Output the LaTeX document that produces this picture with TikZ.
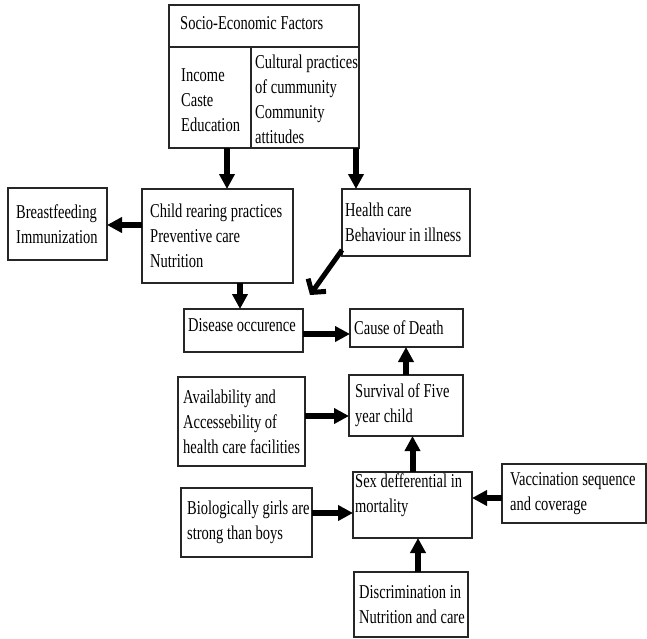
\documentclass[tikz,border=0pt]{standalone}
\usepackage{fontspec}
\setmainfont{Liberation Serif}[FakeStretch=0.74]
\usetikzlibrary{arrows.meta}
\tikzset{
  box/.style={draw=black!85, line width=1.1pt, inner sep=0pt, outer sep=0pt, anchor=north west},
  txt/.style={font=\fontsize{19.6}{25}\selectfont, align=left, inner sep=0pt, anchor=west, text=black},
  arr/.style={line width=6pt, -{Triangle[width=15pt,length=15pt]}},
  diag/.style={line width=5pt, -{Straight Barb[length=9pt,width=22pt]}}
}
\newcommand\mkbox[5]{\node[box, minimum width={(#3)-(#1)}, minimum height={(#4)-(#2)}] (#5) at (#1,#2) {};}
\begin{document}
\begin{tikzpicture}[x=1pt,y=-1pt]
\fill[white] (0,0) rectangle (647,638);
\useasboundingbox (0,0) rectangle (647,638);
% boxes
\mkbox{169}{5}{359}{47}{sochead}
\mkbox{169}{47}{251}{148}{socleft}
\mkbox{251}{47}{359}{148}{socright}
\mkbox{142}{189}{293}{283}{child}
\mkbox{8}{188}{107}{260}{breast}
\mkbox{342}{189}{470}{256}{health}
\mkbox{184}{309}{303}{352}{disease}
\mkbox{350}{309}{463}{347}{cause}
\mkbox{349}{375}{463}{436}{survival}
\mkbox{178}{377}{305}{466}{avail}
\mkbox{353}{472}{472}{538}{sex}
\mkbox{502}{464}{646}{523}{vacc}
\mkbox{181}{488}{312}{557}{bio}
\mkbox{354}{572}{468}{637}{disc}
% texts
\node[txt] (sochead-t) at ([xshift=11pt,yshift=3pt]sochead.west) {Socio-Economic Factors};
\node[txt] (socleft-t) at ([xshift=12pt,yshift=-3pt]socleft.west) {Income\\Caste\\Education};
\node[txt] (socright-t) at ([xshift=4pt,yshift=-1.5pt]socright.west) {Cultural practices\\of cummunity\\Community\\attitudes};
\node[txt] (child-t) at ([xshift=8pt]child.west) {Child rearing practices\\Preventive care\\Nutrition};
\node[txt] (breast-t) at ([xshift=8pt]breast.west) {Breastfeeding\\Immunization};
\node[txt] (health-t) at ([xshift=3pt]health.west) {Health care\\Behaviour in illness};
\node[txt] (disease-t) at ([xshift=4pt,yshift=5pt]disease.west) {Disease occurence};
\node[txt] (cause-t) at ([xshift=4pt]cause.west) {Cause of Death};
\node[txt] (survival-t) at ([xshift=6pt]survival.west) {Survival of Five\\year child};
\node[txt] (avail-t) at ([xshift=5pt]avail.west) {Availability and\\Accessebility of\\health care facilities};
\node[txt] (sex-t) at ([xshift=2pt,yshift=9.5pt]sex.west) {Sex defferential in\\mortality};
\node[txt] (vacc-t) at ([xshift=8pt]vacc.west) {Vaccination sequence\\and coverage};
\node[txt] (bio-t) at ([xshift=6pt]bio.west) {Biologically girls are\\strong than boys};
\node[txt] (disc-t) at ([xshift=5pt]disc.west) {Discrimination in\\Nutrition and care};
% arrows
\draw[arr] ([xshift=17pt]socleft.south) -- ([xshift=17pt]socleft.south |- child.north);
\draw[arr] ([xshift=51pt]socright.south) -- ([xshift=51pt]socright.south |- health.north);
\draw[arr] ([yshift=11pt]child.west) -- ([yshift=11pt]child.west -| breast.east);
\draw[arr] ([xshift=22.5pt]child.south) -- ([xshift=22.5pt]child.south |- disease.north);
\draw[diag] ([yshift=6pt]health.south west) -- ([xshift=7pt,yshift=14pt]disease.north east);
\draw[arr] ([yshift=-3.5pt]disease.east) -- ([yshift=-3.5pt]disease.east -| cause.west);
\draw[arr] (survival.north) -- (survival.north |- cause.south);
\draw[arr] ([yshift=5.5pt]avail.east) -- ([yshift=5.5pt]avail.east -| survival.west);
\draw[arr] (sex.north) -- (sex.north |- survival.south);
\draw[arr] ([yshift=9.5pt]bio.east) -- ([yshift=9.5pt]bio.east -| sex.west);
\draw[arr] ([yshift=-4.5pt]vacc.west) -- ([yshift=-4.5pt]vacc.west -| sex.east);
\draw[arr] ([xshift=7pt]disc.north) -- ([xshift=7pt]disc.north |- sex.south);
\end{tikzpicture}
\end{document}
